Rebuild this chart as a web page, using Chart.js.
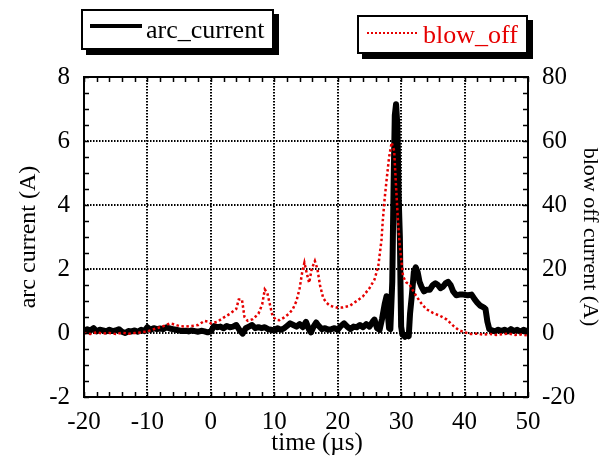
<!DOCTYPE html>
<html><head><meta charset="utf-8">
<script src="https://cdn.jsdelivr.net/npm/chart.js@4"></script>
<style>
html,body{margin:0;padding:0;background:#fff;}
#wrap{position:relative;width:603px;height:462px;overflow:hidden;}
canvas{position:absolute;left:0;top:0;}
.leg{position:absolute;background:#fff;border:2px solid #000;box-shadow:5px 5px 0 #000;font-family:'Liberation Serif','Times New Roman',serif;font-size:26px;box-sizing:border-box;}
.leg .t{position:absolute;white-space:nowrap;line-height:1;}
.leg .s{position:absolute;height:0;}
</style></head>
<body>
<div id="wrap">
<canvas id="c" width="603" height="462"></canvas>
<div class="leg" style="left:81px;top:9px;width:193px;height:41px;">
  <span class="s" style="left:7px;top:13px;width:52px;border-top:4px solid #000;"></span>
  <span class="t" style="left:63px;top:6px;color:#000;">arc_current</span>
</div>
<div class="leg" style="left:357px;top:15px;width:171px;height:39px;">
  <span class="s" style="left:8px;top:15px;width:50px;border-top:2.5px dotted rgb(230,0,0);"></span>
  <span class="t" style="left:64px;top:5px;color:rgb(230,0,0);">blow_off</span>
</div>
</div>
<script>
// ---- data ----
const xTicks = [-20, -10, 0, 10, 20, 30, 40, 50];
const yTicks = [-2, 0, 2, 4, 6, 8];
const y2Ticks = [-20, 0, 20, 40, 60, 80];

const arcTime = [-20,-19.5,-19,-18.5,-18,-17.5,-17,-16.5,-16,-15.5,-15,-14.5,-14,-13.5,-13,-12.5,-12,-11.5,-11,-10.5,
  -10,-9.5,-9,-8.5,-8,-7.5,-7,-6.5,-6,-5.5,-5,-4.5,-4,-3.5,-3,-2.5,-2,-1.5,-1,-0.5,
  0,0.5,1,1.5,2,2.5,3,3.5,4,4.5,5,5.5,6,6.5,7,7.5,8,8.5,9,9.5,
  10,10.5,11,11.5,12,12.5,13,13.5,14,14.5,15,15.5,15.8,16.2,16.6,17,17.5,18,18.5,19,19.5,
  20,20.5,21,21.5,22,22.5,23,23.5,24,24.5,25,25.5,25.8,26.2,26.6,27,27.4,27.7,27.9,28.1,28.3,
  28.6,28.8,29.0,29.2,29.4,29.6,29.8,29.9,30.0,30.2,30.6,31.0,31.2,31.4,31.7,32.0,32.3,32.6,32.9,
  33.2,33.6,34.0,34.5,35.0,35.4,35.8,36.2,36.6,37.0,37.4,37.8,38.2,38.7,39.2,39.8,40.5,41.1,41.6,
  42.0,42.5,43.0,43.3,43.6,43.9,44.3,44.8,45.3,45.8,46.3,46.8,47.3,47.8,48.3,48.8,49.3,50];
const arcValue = [0.05,0.12,0.08,0.15,0.05,0.1,0.08,0.05,0.1,0.06,0.08,0.12,0.04,0.0,0.06,0.05,0.08,0.04,0.1,0.06,
  0.18,0.1,0.15,0.12,0.14,0.12,0.18,0.14,0.12,0.1,0.08,0.06,0.07,0.05,0.08,0.06,0.04,0.07,0.05,0.02,
  0.05,0.22,0.18,0.2,0.15,0.22,0.18,0.2,0.25,0.1,-0.02,0.15,0.2,0.25,0.15,0.18,0.15,0.18,0.12,0.1,
  0.08,0.15,0.1,0.14,0.22,0.3,0.25,0.2,0.28,0.18,0.35,0.1,0.02,0.2,0.33,0.22,0.12,0.15,0.1,0.12,0.15,
  0.1,0.22,0.3,0.2,0.12,0.2,0.18,0.25,0.18,0.28,0.2,0.35,0.42,0.15,0.1,0.45,0.9,1.15,0.6,0.15,0.12,
  1.6,4.5,6.8,7.15,6.5,4.3,3.0,1.5,0.2,-0.05,-0.12,-0.05,-0.1,0.6,1.2,1.9,2.05,1.9,1.6,
  1.45,1.3,1.35,1.35,1.5,1.55,1.5,1.4,1.45,1.55,1.6,1.5,1.3,1.18,1.2,1.2,1.18,1.2,1.05,
  0.95,0.85,0.8,0.75,0.35,0.12,0.08,0.05,0.1,0.06,0.1,0.05,0.12,0.06,0.1,0.04,0.1,0.05];

const blowTime = [-20,-19,-18,-17,-16,-15,-14,-13,-12,-11,-10,-9,-8,-7,-6.5,-6,-5,-4,-3,-2,-1,-0.5,
  0,1,2,3,4,4.4,4.9,5.3,5.8,6.6,7.5,8.1,8.5,8.9,9.3,9.7,10.2,10.8,11.5,12.3,12.9,13.5,14.0,14.4,14.75,
  15.2,15.5,15.9,16.4,16.8,17.2,17.7,18.2,18.8,19.8,20.8,21.9,23,24,25,25.8,26.4,26.9,27.1,27.4,27.7,
  28.1,28.5,28.9,29.2,29.5,29.8,30.3,30.8,31.3,31.8,32.4,33.2,34,35,36.1,37.2,38.2,39,40,41,42,42.9,
  44,45,46,47,48,49,50];
const blowValue = [0,-0.3,0.2,-0.2,0,-0.3,0.1,-0.2,0,0.2,0.5,1.2,1.8,2.5,3,2.8,2.2,2,2.2,2.5,3.8,3.6,
  3,3.5,4.8,6,7.5,10.5,10.5,5,3.8,4.3,6,9,13.6,12.5,9,5.5,4.2,4,4.8,6,7.4,10,14,19,22,
  18,15.7,20,22.5,20,15,11,9.5,8.5,8,8,8.5,10,11.5,14,16.7,21,29,35,42,47.7,
  55,59.5,57,45.6,35,27,17.7,15.8,15.2,13.5,11.5,9.2,7.4,6.3,5.4,4.2,2.3,1,0.2,-0.3,-0.2,-0.5,
  -0.3,-0.6,-0.4,-0.2,-0.6,-0.5,-0.8];

const RED = 'rgb(230,0,0)';
const FONT = "'Liberation Serif', 'Times New Roman', serif";

const framePlugin = {
  id: 'framePlugin',
  beforeDatasetsDraw(ch) {
    const {ctx, chartArea: a, scales: {x, y}} = ch;
    ctx.save();
    ctx.strokeStyle = '#000';
    ctx.lineWidth = 2;
    ctx.setLineDash([1.5, 1.5]);
    xTicks.forEach(v => {
      if (v > x.min && v < x.max) {
        const p = Math.round(x.getPixelForValue(v));
        ctx.beginPath(); ctx.moveTo(p, a.top); ctx.lineTo(p, a.bottom); ctx.stroke();
      }
    });
    yTicks.forEach(v => {
      if (v > y.min && v < y.max) {
        const p = Math.round(y.getPixelForValue(v));
        ctx.beginPath(); ctx.moveTo(a.left, p); ctx.lineTo(a.right, p); ctx.stroke();
      }
    });
    ctx.restore();
  },
  afterDatasetsDraw(ch) {
    const {ctx, chartArea: a, scales: {x, y}} = ch;
    ctx.save();
    ctx.strokeStyle = '#000';
    ctx.lineWidth = 1.5;
    ctx.beginPath();
    for (let v = x.min; v <= x.max + 1e-9; v += 2) {
      const p = Math.round(x.getPixelForValue(v)) + 0.5;
      ctx.moveTo(p, a.bottom); ctx.lineTo(p, a.bottom - 5);
      ctx.moveTo(p, a.top); ctx.lineTo(p, a.top + 5);
    }
    for (let v = y.min; v <= y.max + 1e-9; v += 0.5) {
      const p = Math.round(y.getPixelForValue(v)) + 0.5;
      ctx.moveTo(a.left, p); ctx.lineTo(a.left + 5, p);
      ctx.moveTo(a.right, p); ctx.lineTo(a.right - 5, p);
    }
    ctx.stroke();
    ctx.lineWidth = 2;
    ctx.strokeRect(a.left, a.top, a.right - a.left, a.bottom - a.top);
    // x-axis title
    ctx.fillStyle = '#000';
    ctx.font = '25px ' + FONT;
    ctx.textAlign = 'center';
    ctx.textBaseline = 'middle';
    ctx.fillText('time (\u00b5s)', (a.left + a.right) / 2 + 11, 443);
    ctx.restore();
  }
};

new Chart(document.getElementById('c'), {
  type: 'line',
  data: {
    datasets: [
      {
        label: 'arc_current',
        data: arcTime.map((t, i) => ({x: t, y: arcValue[i]})),
        yAxisID: 'y',
        borderColor: '#000',
        borderWidth: 6,
        pointRadius: 0,
        tension: 0,
        borderJoinStyle: 'round',
        borderCapStyle: 'round',
        order: 2
      },
      {
        label: 'blow_off',
        data: blowTime.map((t, i) => ({x: t, y: blowValue[i]})),
        yAxisID: 'y2',
        borderColor: RED,
        borderWidth: 2.5,
        borderDash: [2.5, 2.5],
        pointRadius: 0,
        tension: 0,
        order: 1
      }
    ]
  },
  options: {
    responsive: false,
    animation: false,
    events: [],
    layout: {padding: {top: 77, left: 0, right: 0, bottom: 0}},
    plugins: {legend: {display: false}, tooltip: {enabled: false}},
    scales: {
      x: {
        type: 'linear', min: -20, max: 50,
        afterBuildTicks: s => { s.ticks = xTicks.map(v => ({value: v})); },
        afterFit: s => { s.height = 65; },
        grid: {display: false, drawTicks: false},
        border: {display: false},
        ticks: {color: '#000', font: {family: FONT, size: 25}, padding: 10, maxRotation: 0, autoSkip: false}
      },
      y: {
        type: 'linear', position: 'left', min: -2, max: 8,
        afterBuildTicks: s => { s.ticks = yTicks.map(v => ({value: v})); },
        afterFit: s => { s.width = 84; },
        grid: {display: false, drawTicks: false},
        border: {display: false},
        ticks: {color: '#000', font: {family: FONT, size: 25}, padding: 14},
        title: {display: true, text: 'arc current (A)', color: '#000', font: {family: FONT, size: 24}, padding: {top: 14, bottom: 0}}
      },
      y2: {
        type: 'linear', position: 'right', min: -20, max: 80,
        afterBuildTicks: s => { s.ticks = y2Ticks.map(v => ({value: v})); },
        afterFit: s => { s.width = 75; },
        grid: {display: false, drawTicks: false},
        border: {display: false},
        ticks: {color: '#000', font: {family: FONT, size: 25}, padding: 14},
        title: {display: true, text: 'blow off current (A)', color: '#000', font: {family: FONT, size: 22}, padding: {top: 0, bottom: 0}}
      }
    }
  },
  plugins: [framePlugin]
});
</script>
</body></html>
